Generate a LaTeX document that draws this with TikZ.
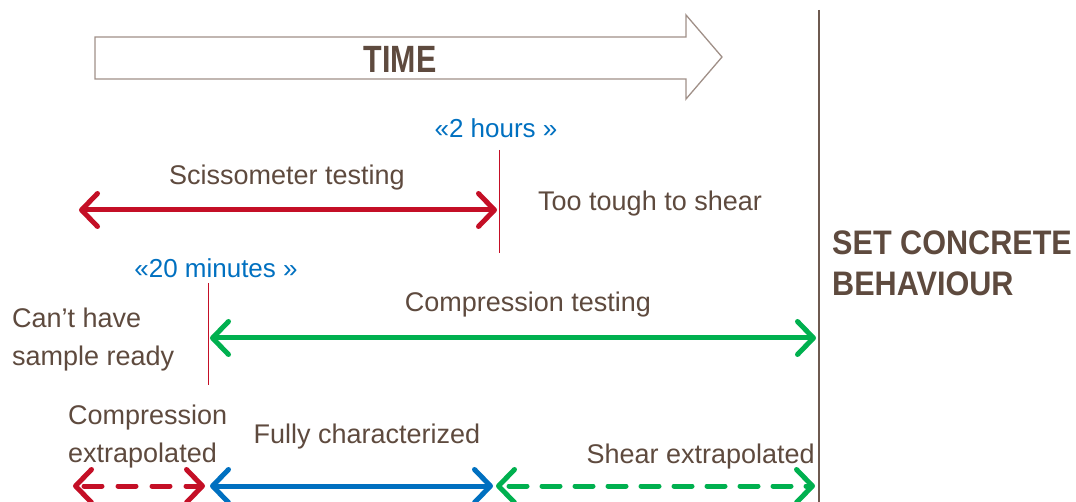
\documentclass[tikz,border=0pt]{standalone}
\usepackage{fontspec}
\setmainfont{Liberation Sans}
\newfontfamily\timefont{Liberation Sans}[FakeStretch=0.8]
\newfontfamily\setfont{Liberation Sans}[FakeStretch=0.9]
\usetikzlibrary{arrows.meta}
\definecolor{txtbrown}{HTML}{5E4A3E}
\definecolor{linebrown}{HTML}{6E5A50}
\definecolor{outline}{HTML}{A09088}
\definecolor{phred}{HTML}{C40F26}
\definecolor{phgreen}{HTML}{00B04F}
\definecolor{phblue}{HTML}{0070C0}
\tikzset{
  lbl/.style={text=txtbrown, font=\fontsize{27}{38}\selectfont, inner sep=0pt},
  tlbl/.style={text=phblue, font=\fontsize{26}{30}\selectfont, inner sep=0pt},
  big/.style={text=txtbrown, inner sep=0pt, align=left},
  span/.style={line width=5pt, line cap=round,
    {Straight Barb[length=16pt, width=33pt, line width=5pt, round]}-{Straight Barb[length=16pt, width=33pt, line width=5pt, round]}},
  mark line/.style={phred, line width=1pt},
}
\begin{document}
\begin{tikzpicture}[x=1pt, y=-1pt]
\useasboundingbox (0,0) rectangle (1076,502);

% time arrow
\draw[outline, line width=1.3pt, fill=white]
  (95,37) -- (686,37) -- (686,15) -- (722,57) -- (686,99) -- (686,79) -- (95,79) -- cycle;
\node[big, font=\timefont\bfseries\fontsize{38}{40}\selectfont] (time) at (400,59) {TIME};

% set concrete boundary
\coordinate (setTop) at (819,10);
\coordinate (setBot) at (819,502);
\draw[linebrown, line width=2pt] (setTop) -- (setBot);
\node[big, anchor=west, font=\setfont\bfseries\fontsize{34}{41}\selectfont] (setc) at (832,263) {SET CONCRETE\\BEHAVIOUR};

% two hour mark
\node[tlbl] (twoh) at (496,128) {«2 hours »};
\coordinate (twoTop) at (499,150);
\coordinate (twoBot) at (499,253);
\draw[mark line] (twoTop) -- (twoBot);

\coordinate (sA) at (79,210);
\coordinate (sB) at (497,210);
\draw[span, phred] (sA) -- (sB);
\node[lbl] (scis) at (287,178) {Scissometer testing};
\node[lbl, anchor=west] (tough) at (538,204) {Too tough to shear};

% twenty minute mark
\node[tlbl] (twenty) at (216,268) {«20 minutes »};
\coordinate (tmTop) at (208,283);
\coordinate (tmBot) at (208,385);
\draw[mark line] (tmTop) -- (tmBot);

\coordinate (cA) at (210,338);
\coordinate (cB) at (816,338);
\draw[span, phgreen] (cA) -- (cB);
\node[lbl] (comp) at (528,305) {Compression testing};
\node[lbl, anchor=west, align=left] (cant) at (12,340) {Can’t have\\sample ready};

% bottom row
\coordinate (r0) at (73,486);
\coordinate (r1) at (205,486);
\coordinate (r2) at (210,486);
\coordinate (r3) at (493,486);
\coordinate (r4) at (496,486);
\coordinate (r5) at (815,486);
\draw[span, phred, dash pattern=on 18pt off 16pt, dash phase=-6pt] (r0) -- (r1);
\draw[span, phblue] (r2) -- (r3);
\draw[span, phgreen, dash pattern=on 18pt off 15pt, dash phase=-8pt] (r4) -- (r5);

\node[lbl, anchor=west, align=left] (cext) at (68,437) {Compression\\extrapolated};
\node[lbl] (fully) at (367,437) {Fully characterized};
\node[lbl, anchor=east] (sext) at (815,457) {Shear extrapolated};
\end{tikzpicture}
\end{document}
